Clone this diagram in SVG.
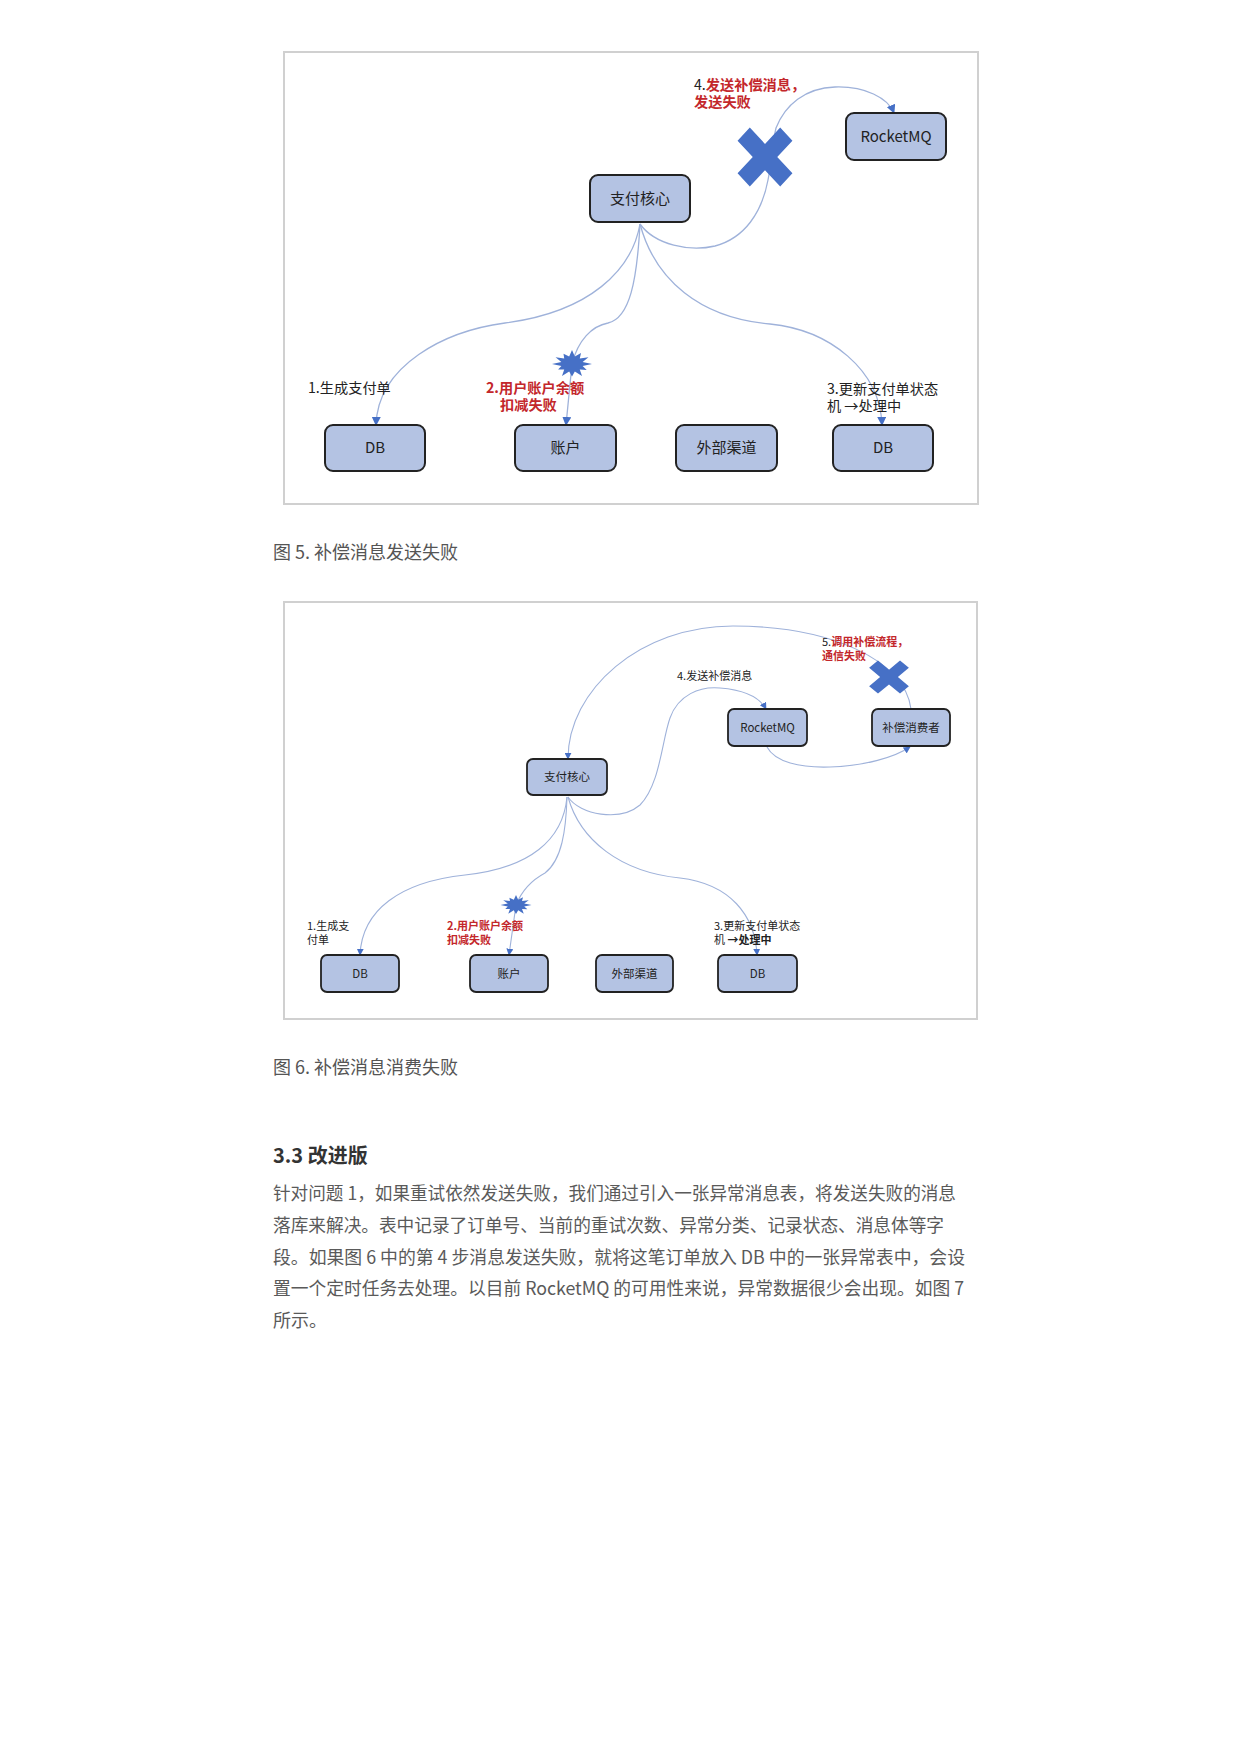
<svg xmlns="http://www.w3.org/2000/svg" width="1241" height="1754" viewBox="0 0 1241 1754">
<style>
text{font-family:"Noto Sans CJK SC","Noto Sans",sans-serif;}
.frame{fill:#fff;stroke:#d0d0d0;stroke-width:2;}
.box{fill:#b4c3e3;stroke:#222;stroke-width:2;}
.box2{fill:#b4c3e3;stroke:#222;stroke-width:1.8;}
.bt{font-size:15px;fill:#222;text-anchor:middle;}
.bt2{font-size:11.5px;fill:#222;text-anchor:middle;}
.lb{font-size:14.2px;fill:#222;}
.lb2{font-size:11px;fill:#222;}
.red{fill:#c3272b;font-weight:bold;}
.bold{font-weight:bold;}
.c1{fill:none;stroke:#9fb2da;stroke-width:1.3;marker-end:url(#ah);}
.c2{fill:none;stroke:#9fb2da;stroke-width:1.1;marker-end:url(#ah2);}
.mark{fill:#4670c6;}
.cap{font-size:18px;fill:#555;}
.h{font-size:20px;fill:#333;font-weight:bold;}
.p{font-size:18px;fill:#5a5a5a;}
</style>
<defs>
<marker id="ah" viewBox="0 0 10 10" refX="9" refY="5" markerWidth="9" markerHeight="9" markerUnits="userSpaceOnUse" orient="auto"><path d="M0,0 L10,5 L0,10 z" fill="#4670c6"/></marker>
<marker id="ah2" viewBox="0 0 10 10" refX="9" refY="5" markerWidth="7" markerHeight="7" markerUnits="userSpaceOnUse" orient="auto"><path d="M0,0 L10,5 L0,10 z" fill="#4670c6"/></marker>
<polygon id="xmark" points="-28,-15.5 -15.5,-28 0,-12.5 15.5,-28 28,-15.5 12.5,0 28,15.5 15.5,28 0,12.5 -15.5,28 -28,15.5 -12.5,0"/>
<polygon id="burst" points="1,0 .531,.142 .736,.425 .389,.389 .5,.866 .142,.531 0,.9 -.142,.531 -.5,.866 -.389,.389 -.693,.4 -.531,.142 -1,0 -.531,-.142 -.823,-.475 -.389,-.389 -.425,-.736 -.142,-.531 0,-1 .142,-.531 .45,-.779 .389,-.389 .823,-.475 .531,-.142"/>
</defs>
<rect width="1241" height="1754" fill="#fff"/>

<rect class="frame" x="284" y="52" width="694" height="452"/>
<rect class="frame" x="284" y="602" width="693" height="417"/>

<g id="connectors">
<path class="c1" d="M640,224 C632,270 590,312 505,323 C445,331 378,365 376,425"/>
<path class="c1" d="M640,224 C637,280 630,318 608,323 C592,326 578,340 572,364 L566,425"/>
<path class="c1" d="M640,224 C655,280 700,318 770,324 C830,330 880,370 882,425"/>
<path class="c1" d="M640,224 C655,245 690,252 715,246 C745,238 762,212 768,180 C772,160 772,145 776,128 C785,105 805,88 835,87 C865,86 888,98 894,113"/>
<path class="c2" d="M911,709 C905,660 830,626 733,626 C640,626 568,690 568,759"/>
<path class="c2" d="M568,797 C580,815 620,822 640,805 C660,785 662,740 670,718 C678,695 700,686 720,688 C745,690 760,698 766,709"/>
<path class="c2" d="M767,747 C775,762 800,768 830,767 C865,766 895,757 910,747"/>
<path class="c2" d="M567,797 C563,840 530,868 465,875 C400,882 362,910 360,955"/>
<path class="c2" d="M567,797 C566,830 562,860 545,873 C532,880 522,890 516,905 L509,955"/>
<path class="c2" d="M568,797 C580,840 620,872 680,878 C730,884 755,915 757,955"/>
</g>

<g id="f5-core"><rect class="box" x="590" y="175" width="100" height="47" rx="8"/><text class="bt" x="640" y="204">支付核心</text></g>
<g id="f5-rocketmq"><rect class="box" x="846" y="113" width="100" height="47" rx="8"/><text class="bt" x="896" y="141.5">RocketMQ</text></g>
<g id="f5-db1"><rect class="box" x="325" y="425" width="100" height="46" rx="8"/><text class="bt" x="375" y="453">DB</text></g>
<g id="f5-account"><rect class="box" x="515" y="425" width="101" height="46" rx="8"/><text class="bt" x="565.5" y="453">账户</text></g>
<g id="f5-external"><rect class="box" x="676" y="425" width="101" height="46" rx="8"/><text class="bt" x="726.5" y="453">外部渠道</text></g>
<g id="f5-db2"><rect class="box" x="833" y="425" width="100" height="46" rx="8"/><text class="bt" x="883" y="453">DB</text></g>
<g id="f5-x"><use href="#xmark" class="mark" transform="translate(765,157) scale(0.98,1.05)"/></g>
<g id="f5-burst"><use href="#burst" class="mark" transform="translate(572,364) scale(20,14)"/></g>
<g id="f5-labels">
<text class="lb" x="694" y="90">4.<tspan class="red">发送补偿消息，</tspan></text>
<text class="lb red" x="694" y="107">发送失败</text>
<text class="lb" x="308" y="393">1.生成支付单</text>
<text class="lb red" x="486" y="393">2.用户账户余额</text>
<text class="lb red" x="500" y="410">扣减失败</text>
<text class="lb" x="827" y="394">3.更新支付单状态</text>
<text class="lb" x="827" y="411">机 →处理中</text>
</g>
<text class="cap" x="273" y="559">图 5. 补偿消息发送失败</text>

<g id="f6-core"><rect class="box2" x="527" y="759" width="80" height="36" rx="6"/><text class="bt2" x="567" y="781">支付核心</text></g>
<g id="f6-rocketmq"><rect class="box2" x="728" y="709" width="79" height="37" rx="6"/><text class="bt2" x="767.5" y="731.5">RocketMQ</text></g>
<g id="f6-consumer"><rect class="box2" x="872" y="709" width="78" height="37" rx="6"/><text class="bt2" x="911" y="731.5">补偿消费者</text></g>
<g id="f6-db1"><rect class="box2" x="321" y="955" width="78" height="37" rx="6"/><text class="bt2" x="360" y="977.5">DB</text></g>
<g id="f6-account"><rect class="box2" x="470" y="955" width="78" height="37" rx="6"/><text class="bt2" x="509" y="977.5">账户</text></g>
<g id="f6-external"><rect class="box2" x="596" y="955" width="77" height="37" rx="6"/><text class="bt2" x="634.5" y="977.5">外部渠道</text></g>
<g id="f6-db2"><rect class="box2" x="718" y="955" width="79" height="37" rx="6"/><text class="bt2" x="757.5" y="977.5">DB</text></g>
<g id="f6-x"><use href="#xmark" class="mark" transform="translate(889,677) scale(0.71,0.59)"/></g>
<g id="f6-burst"><use href="#burst" class="mark" transform="translate(516,905) scale(15.5,10)"/></g>
<g id="f6-labels">
<text class="lb2" x="822" y="645.5">5.<tspan class="red">调用补偿流程，</tspan></text>
<text class="lb2 red" x="822" y="659.5">通信失败</text>
<text class="lb2" x="677" y="680">4.发送补偿消息</text>
<text class="lb2" x="307" y="929.5">1.生成支</text>
<text class="lb2" x="307" y="943.5">付单</text>
<text class="lb2 red" x="447" y="929.5">2.用户账户余额</text>
<text class="lb2 red" x="447" y="943.5">扣减失败</text>
<text class="lb2" x="714" y="929.5">3.更新支付单状态</text>
<text class="lb2" x="714" y="943.5">机 <tspan class="bold">→处理中</tspan></text>
</g>
<text class="cap" x="273" y="1074">图 6. 补偿消息消费失败</text>

<text class="h" x="273" y="1163">3.3 改进版</text>
<text class="p" x="273" y="1200" textLength="683" lengthAdjust="spacingAndGlyphs">针对问题 1，如果重试依然发送失败，我们通过引入一张异常消息表，将发送失败的消息</text>
<text class="p" x="273" y="1232" textLength="671" lengthAdjust="spacingAndGlyphs">落库来解决。表中记录了订单号、当前的重试次数、异常分类、记录状态、消息体等字</text>
<text class="p" x="273" y="1264" textLength="692" lengthAdjust="spacingAndGlyphs">段。如果图 6 中的第 4 步消息发送失败，就将这笔订单放入 DB 中的一张异常表中，会设</text>
<text class="p" x="273" y="1295" textLength="691" lengthAdjust="spacingAndGlyphs">置一个定时任务去处理。以目前 RocketMQ 的可用性来说，异常数据很少会出现。如图 7</text>
<text class="p" x="273" y="1327">所示。</text>
</svg>
